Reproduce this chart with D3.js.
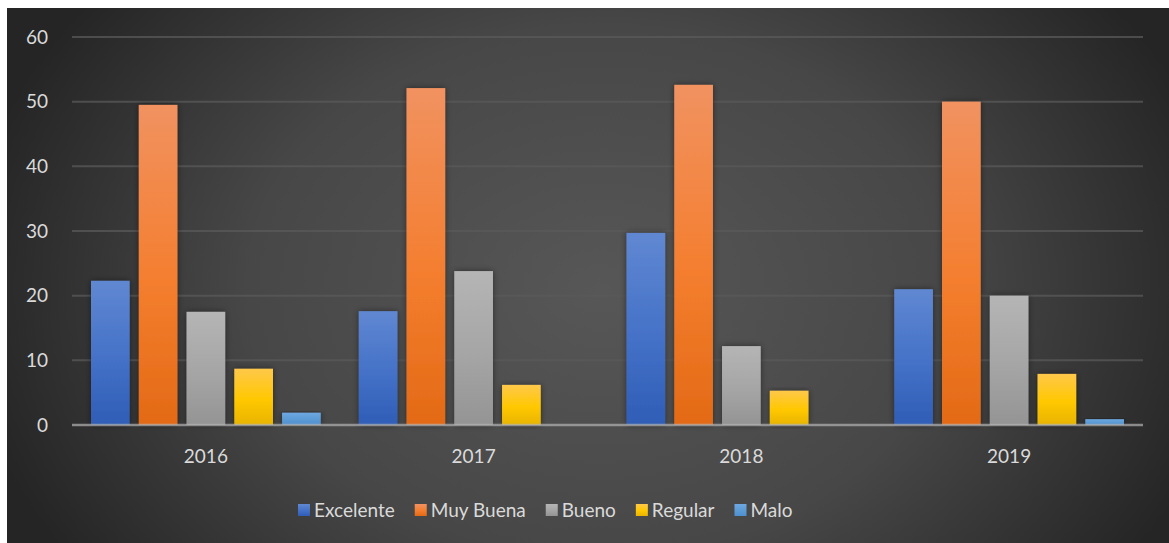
<!DOCTYPE html>
<html>
<head>
<meta charset="utf-8">
<script src="https://cdn.jsdelivr.net/npm/d3@7/dist/d3.min.js"></script>
<style>
  html, body { margin: 0; padding: 0; background: #ffffff; }
  svg { display: block; }
  text { font-family: Lato, "Open Sans", sans-serif; fill: #dadada; }
</style>
</head>
<body>
<svg id="chart" width="1169" height="543"></svg>
<script>
// Survey ratings per year (percent of responses)
const years = ["2016", "2017", "2018", "2019"];
const series = ["Excelente", "Muy Buena", "Bueno", "Regular", "Malo"];
const excelente = [22.3, 17.6, 29.7, 21.0];
const muyBuena  = [49.5, 52.1, 52.6, 50.0];
const bueno     = [17.5, 23.8, 12.2, 20.0];
const regular   = [8.7, 6.2, 5.3, 7.9];
const malo      = [1.9, 0, 0, 0.9];
const yTicks    = [0, 10, 20, 30, 40, 50, 60];

const valuesBySeries = [excelente, muyBuena, bueno, regular, malo];

// Fill colours per series: [top, middle, bottom] of the vertical gradient
const palette = [
  ["#6088d2", "#4471c7", "#2f5db6"],
  ["#f19260", "#f47e2f", "#e36a15"],
  ["#b5b5b5", "#a5a5a5", "#949494"],
  ["#ffc84a", "#ffc800", "#e8b400"],
  ["#6ea8e2", "#5b9bd5", "#4e8fd0"]
];

const FONT = 19;

const svg = d3.select("#chart");
const defs = svg.append("defs");

// Dark panel with a soft lighter centre
const bg = defs.append("radialGradient")
  .attr("id", "bgGrad")
  .attr("gradientUnits", "userSpaceOnUse")
  .attr("cx", 600).attr("cy", 290).attr("r", 640)
  .attr("gradientTransform", "translate(600,290) scale(1,0.75) translate(-600,-290)");
bg.append("stop").attr("offset", "0%").attr("stop-color", "#575757");
bg.append("stop").attr("offset", "55%").attr("stop-color", "#474747");
bg.append("stop").attr("offset", "100%").attr("stop-color", "#252525");

palette.forEach((c, i) => {
  const g = defs.append("linearGradient")
    .attr("id", "barGrad" + i)
    .attr("x1", 0).attr("y1", 0).attr("x2", 0).attr("y2", 1);
  g.append("stop").attr("offset", "0%").attr("stop-color", c[0]);
  g.append("stop").attr("offset", "55%").attr("stop-color", c[1]);
  g.append("stop").attr("offset", "100%").attr("stop-color", c[2]);
});

const shadow = defs.append("filter")
  .attr("id", "barShadow")
  .attr("x", "-30%").attr("y", "-10%").attr("width", "160%").attr("height", "120%");
shadow.append("feDropShadow")
  .attr("dx", 0).attr("dy", 0).attr("stdDeviation", 3)
  .attr("flood-color", "#000").attr("flood-opacity", 0.45);

svg.append("rect")
  .attr("x", 7).attr("y", 8)
  .attr("width", 1162).attr("height", 535)
  .attr("fill", "url(#bgGrad)");

const plot = { left: 72, right: 1143, top: 37, bottom: 425 };

const x0 = d3.scaleBand()
  .domain(years)
  .range([plot.left, plot.right]);

const x1 = d3.scaleBand()
  .domain(series)
  .range([19, x0.bandwidth() - 19])
  .paddingInner(0.19);

const y = d3.scaleLinear()
  .domain([0, 60])
  .range([plot.bottom, plot.top]);

// Horizontal gridlines
svg.append("g")
  .selectAll("line")
  .data(yTicks.filter(t => t > 0))
  .join("line")
  .attr("x1", plot.left).attr("x2", plot.right)
  .attr("y1", d => y(d)).attr("y2", d => y(d))
  .attr("stroke", "#5a5a5a")
  .attr("stroke-opacity", 0.75)
  .attr("stroke-width", 2);

// Y axis labels
const yAxis = d3.axisLeft(y).tickValues(yTicks).tickSize(0).tickPadding(0);
const yg = svg.append("g")
  .attr("transform", `translate(48,0)`)
  .call(yAxis);
yg.select(".domain").remove();
yg.selectAll("text")
  .attr("font-size", FONT)
  .attr("fill", "#dadada")
  .attr("font-family", "Lato, 'Open Sans', sans-serif");

// Bars
const groups = svg.append("g")
  .selectAll("g")
  .data(years)
  .join("g")
  .attr("transform", d => `translate(${x0(d)},0)`);

groups.selectAll("rect")
  .data((yr, yi) => series.map((s, si) => ({ s, si, v: valuesBySeries[si][yi] })))
  .join("rect")
  .filter(d => d.v > 0)
  .attr("x", d => x1(d.s))
  .attr("width", x1.bandwidth())
  .attr("y", d => y(d.v))
  .attr("height", d => y(0) - y(d.v))
  .attr("fill", d => `url(#barGrad${d.si})`)
  .attr("filter", "url(#barShadow)");

// Baseline
svg.append("line")
  .attr("x1", plot.left).attr("x2", plot.right)
  .attr("y1", y(0)).attr("y2", y(0))
  .attr("stroke", "#b4b4b4")
  .attr("stroke-opacity", 0.7)
  .attr("stroke-width", 2.5);

// X axis labels
const xAxis = d3.axisBottom(x0).tickSize(0).tickPadding(0);
const xg = svg.append("g")
  .attr("transform", `translate(0,${y(0) + 38})`)
  .call(xAxis);
xg.select(".domain").remove();
xg.selectAll("text")
  .attr("font-size", FONT)
  .attr("fill", "#dadada")
  .attr("dy", "0")
  .attr("font-family", "Lato, 'Open Sans', sans-serif");

// Legend
const legend = svg.append("g").attr("transform", "translate(298,510)");
let lx = 0;
series.forEach((s, i) => {
  const item = legend.append("g").attr("transform", `translate(${lx},0)`);
  item.append("rect")
    .attr("x", 0).attr("y", -6)
    .attr("width", 12).attr("height", 12)
    .attr("fill", `url(#barGrad${i})`);
  const t = item.append("text")
    .attr("x", 16).attr("y", 0)
    .attr("dy", "0.35em")
    .attr("font-size", FONT)
    .text(s);
  lx += 16 + t.node().getComputedTextLength() + 20;
});
</script>
</body>
</html>
